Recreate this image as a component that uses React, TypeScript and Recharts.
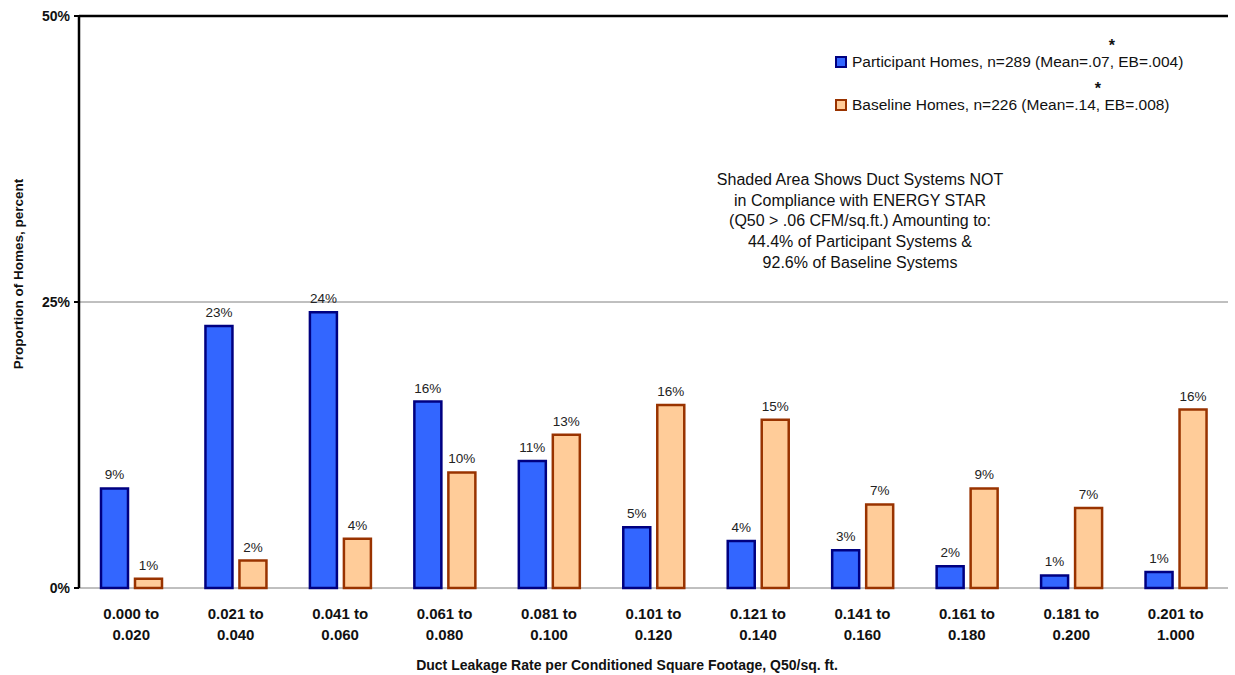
import React from "react";
import {
  BarChart,
  Bar,
  XAxis,
  YAxis,
  CartesianGrid,
  ReferenceLine,
  LabelList,
} from "recharts";

const FONT = '"Liberation Sans", Arial, sans-serif';

// leakage bins (Q50 per sq. ft.)
const bins = [
  "0.000 to 0.020",
  "0.021 to 0.040",
  "0.041 to 0.060",
  "0.061 to 0.080",
  "0.081 to 0.100",
  "0.101 to 0.120",
  "0.121 to 0.140",
  "0.141 to 0.160",
  "0.161 to 0.180",
  "0.181 to 0.200",
  "0.201 to 1.000",
];

// percent of homes in each bin
const participant = [8.7, 22.9, 24.1, 16.3, 11.1, 5.3, 4.1, 3.3, 1.9, 1.1, 1.4];
const baseline = [0.8, 2.4, 4.3, 10.1, 13.4, 16.0, 14.7, 7.3, 8.7, 7.0, 15.6];

const yTicks = [0, 25, 50];
const binEdges = bins.map((_, i) => i).concat(bins.length);

const noteLines = [
  "Shaded Area Shows Duct Systems NOT",
  "in Compliance with ENERGY STAR",
  "(Q50 > .06 CFM/sq.ft.) Amounting to:",
  "44.4% of Participant Systems &",
  "92.6% of Baseline Systems",
];

const legendItems = [
  { fill: "#3366FF", stroke: "#000080", head: "Participant Homes, n=289 (Mean=.07", tail: " EB=.004)" },
  { fill: "#FFCC99", stroke: "#993300", head: "Baseline Homes, n=226 (Mean=.14", tail: " EB=.008)" },
];

const data = bins.map((bin, i) => ({
  bin,
  idx: i + 0.5,
  participant: participant[i],
  baseline: baseline[i],
}));

const pct = (v: unknown) => `${Math.round(Number(v))}%`;

function BinTick(props: any) {
  const { x, y, payload } = props;
  const [lo, hi] = String(payload.value).split(" to ");
  return (
    <g transform={`translate(${x},${y})`}>
      <text textAnchor="middle" fontFamily={FONT} fontSize={15} fontWeight="bold" fill="#111">
        <tspan x={0} dy={23}>{lo} to</tspan>
        <tspan x={0} dy={21}>{hi}</tspan>
      </text>
    </g>
  );
}

function PctTick(props: any) {
  const { x, y, payload } = props;
  return (
    <text x={x} y={y} dy={5} textAnchor="end" fontFamily={FONT} fontSize={14} fontWeight="bold" fill="#111">
      {pct(payload.value)}
    </text>
  );
}

function LegendBox() {
  return (
    <div style={{ position: "absolute", left: 835, top: 52, fontFamily: FONT, fontSize: 15.5, color: "#111", whiteSpace: "nowrap" }}>
      {legendItems.map((it, i) => (
        <div key={i} style={{ display: "flex", alignItems: "center", height: 20, marginBottom: i === 0 ? 23 : 0 }}>
          <span
            style={{
              display: "inline-block",
              width: 8,
              height: 8,
              background: it.fill,
              border: `2px solid ${it.stroke}`,
              marginRight: 5,
            }}
          />
          <span>
            {it.head}
            <span style={{ position: "relative" }}>
              ,
              <span style={{ position: "absolute", left: -1, top: -14, fontWeight: "bold", fontSize: 16, lineHeight: "14px" }}>*</span>
            </span>
            {it.tail}
          </span>
        </div>
      ))}
    </div>
  );
}

export default function App() {
  return (
    <div style={{ position: "absolute", left: 0, top: 0, width: 1235, height: 675, background: "#fff" }}>
      <BarChart
        width={1235}
        height={675}
        data={data}
        margin={{ top: 16, right: 7, bottom: 0, left: 0 }}
        barSize={27}
        barGap={7}
      >
        <CartesianGrid vertical={false} stroke="#808080" strokeWidth={1} />
        <XAxis
          xAxisId="edges"
          type="number"
          dataKey="idx"
          domain={[0, bins.length]}
          ticks={binEdges}
          tick={false}
          tickSize={7}
          tickLine={{ stroke: "#000", strokeWidth: 2 }}
          axisLine={{ stroke: "#000", strokeWidth: 2.5 }}
          height={0}
          allowDataOverflow
        />
        <XAxis
          dataKey="bin"
          interval={0}
          axisLine={false}
          tickLine={false}
          tick={<BinTick />}
          height={87}
          label={{
            content: () => (
              <text x={627} y={670} textAnchor="middle" fontFamily={FONT} fontSize={14} fontWeight="bold" fill="#111">
                Duct Leakage Rate per Conditioned Square Footage, Q50/sq. ft.
              </text>
            ),
          }}
        />
        <YAxis
          width={79}
          domain={[0, 50]}
          ticks={yTicks}
          interval={0}
          tickSize={5}
          tickMargin={4}
          tick={<PctTick />}
          tickLine={{ stroke: "#000", strokeWidth: 2 }}
          axisLine={{ stroke: "#000", strokeWidth: 2.5 }}
          label={{
            content: () => (
              <text
                x={23}
                y={274}
                transform="rotate(-90 23 274)"
                textAnchor="middle"
                fontFamily={FONT}
                fontSize={13.5}
                fontWeight="bold"
                fill="#111"
              >
                Proportion of Homes, percent
              </text>
            ),
          }}
        />
        <ReferenceLine y={50} stroke="#000" strokeWidth={2.5} />
        <Bar dataKey="participant" fill="#3366FF" stroke="#000080" strokeWidth={2.5} isAnimationActive={false}>
          <LabelList dataKey="participant" position="top" offset={9} formatter={pct} fontFamily={FONT} fontSize={13.5} fill="#222" />
        </Bar>
        <Bar dataKey="baseline" fill="#FFCC99" stroke="#993300" strokeWidth={2.5} isAnimationActive={false}>
          <LabelList dataKey="baseline" position="top" offset={9} formatter={pct} fontFamily={FONT} fontSize={13.5} fill="#222" />
        </Bar>
      </BarChart>
      <LegendBox />
      <div
        style={{
          position: "absolute",
          left: 660,
          top: 170,
          width: 400,
          textAlign: "center",
          fontFamily: FONT,
          fontSize: 16,
          lineHeight: "20.7px",
          color: "#111",
        }}
      >
        {noteLines.map((l) => (
          <div key={l}>{l}</div>
        ))}
      </div>
    </div>
  );
}
